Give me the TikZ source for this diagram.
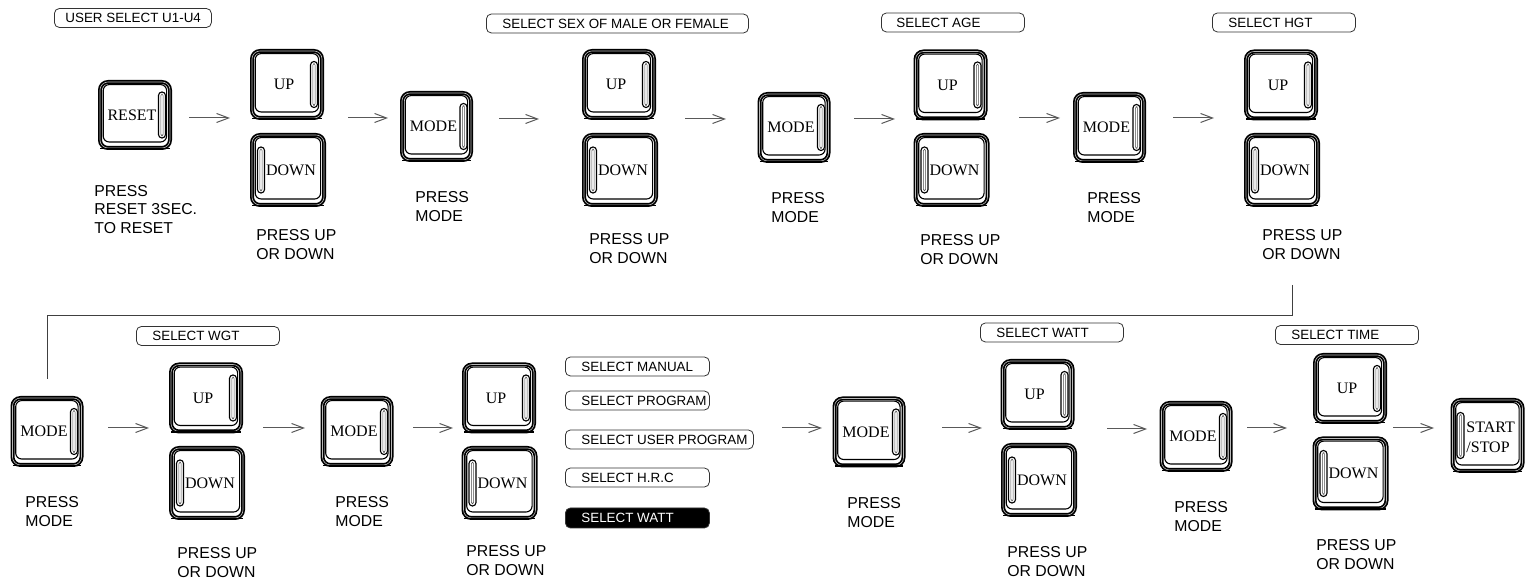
\documentclass[tikz,border=0pt]{standalone}
\usepackage{fontspec}
\setmainfont{Liberation Serif}
\setsansfont{Liberation Sans}
\usetikzlibrary{arrows.meta}
\tikzset{
  frame/.style={draw=none, inner sep=0pt, outer sep=0pt},
  btntext/.style={inner sep=0pt, font=\rmfamily\fontsize{8}{10}\selectfont, align=left},
  lbl/.style={anchor=base west, align=left, inner sep=0pt, font=\sffamily\fontsize{7.9}{9.5}\selectfont},
  lblr/.style={anchor=base west, align=left, inner sep=0pt, font=\sffamily\fontsize{7.9}{9.2}\selectfont},
  selframe/.style={draw=black!80, line width=0.4pt, rounded corners=2.5pt, minimum height=9.5pt, inner sep=0pt, anchor=west},
  seltext/.style={anchor=west, inner sep=0pt, font=\sffamily\fontsize{6.7}{8}\selectfont},
  arr/.style={draw=black!65, line width=0.5pt, -{Straight Barb[length=6pt,width=4.5pt]}},
  conn/.style={draw=black!75, line width=0.5pt}
}
\newcommand{\btnframe}[1]{%
  \draw[line width=2pt, rounded corners=4pt] ([shift={(1pt,1pt)}]#1.south west) rectangle ([shift={(-1pt,-1pt)}]#1.north east);
  \draw[line width=0.3pt, draw=gray!55, rounded corners=4pt] ([shift={(1pt,1pt)}]#1.south west) rectangle ([shift={(-1pt,-1pt)}]#1.north east);
  \draw[line width=0.8pt, rounded corners=3.5pt] ([shift={(1.2pt,0.8pt)}]#1.south west) -- ([shift={(-1.2pt,0.8pt)}]#1.south east);
  \draw[line width=0.55pt, rounded corners=3pt] ([shift={(2.6pt,4pt)}]#1.south west) rectangle ([shift={(-2.7pt,-2.3pt)}]#1.north east);
}
\newcommand{\btnslot}[2]{%
  \draw[line width=0.55pt, rounded corners=1.7pt] ([shift={(#2-1.75pt,-11.5pt)}]#1.center) rectangle ([shift={(#2+1.75pt,11.5pt)}]#1.center);
  \draw[line width=0.25pt, draw=black!70, rounded corners=0.7pt] ([shift={(#2-0.6pt,-10.4pt)}]#1.center) rectangle ([shift={(#2+0.6pt,10.4pt)}]#1.center);
}
\newcommand{\btnR}[5]{%
  \node[frame, minimum width=#3, minimum height=#4] (#1) at (#2) {};
  \btnframe{#1}\btnslot{#1}{13.5pt}
  \node[btntext] (#1-t) at ([xshift=-1.5pt]#1.center) {#5};}
\newcommand{\btnL}[5]{%
  \node[frame, minimum width=#3, minimum height=#4] (#1) at (#2) {};
  \btnframe{#1}\btnslot{#1}{-13.5pt}
  \node[btntext] (#1-t) at ([xshift=1.5pt]#1.center) {#5};}
\newcommand{\selbox}[6]{%
  \node[selframe, minimum width=#4] (#1) at (#2,#3) {};
  \node[seltext] (#1-t) at (#5,#3) {#6};}
\begin{document}
\begin{tikzpicture}[x=0.5pt, y=-0.5pt]
\useasboundingbox (0,0) rectangle (1526,581);
% ---------- row 1 ----------
\selbox{usel}{54}{18}{78.5pt}{65}{USER SELECT U1-U4}
\selbox{sex}{486}{23.5}{131pt}{502}{SELECT SEX OF MALE OR FEMALE}
\selbox{age}{881}{22.5}{71.5pt}{896}{SELECT AGE}
\selbox{hgt}{1212}{22.5}{71.5pt}{1228}{SELECT HGT}

\btnR{reset}{135,115}{37pt}{35pt}{RESET}
\btnR{up1}{287,84.5}{37pt}{35.5pt}{UP}
\btnL{dn1}{288,170}{38pt}{37pt}{DOWN}
\btnR{mode1}{436.5,126.5}{36.5pt}{35.5pt}{MODE}
\btnR{up2}{619,84.5}{37pt}{35.5pt}{UP}
\btnL{dn2}{620,170}{38pt}{37pt}{DOWN}
\btnR{mode2}{794,127.5}{36.5pt}{35.5pt}{MODE}
\btnR{up3}{950.5,85}{37pt}{35.5pt}{UP}
\btnL{dn3}{951.5,170}{38pt}{37pt}{DOWN}
\btnR{mode3}{1109.5,127.5}{36.5pt}{35.5pt}{MODE}
\btnR{up4}{1281,85}{37pt}{35.5pt}{UP}
\btnL{dn4}{1282,170}{38pt}{37pt}{DOWN}

% base anchor = baseline of the last line
\node[lblr] (lreset) at (94,233.2) {PRESS\\RESET 3SEC.\\TO RESET};
\node[lbl] (l1) at (256,259.7) {PRESS UP\\OR DOWN};
\node[lbl] (lm1) at (415,221.7) {PRESS\\MODE};
\node[lbl] (l2) at (589,263.7) {PRESS UP\\OR DOWN};
\node[lbl] (lm2) at (771,222.7) {PRESS\\MODE};
\node[lbl] (l3) at (920,264.7) {PRESS UP\\OR DOWN};
\node[lbl] (lm3) at (1087,222.7) {PRESS\\MODE};
\node[lbl] (l4) at (1262,259.7) {PRESS UP\\OR DOWN};

\coordinate (a1s) at (189,118); \coordinate (a1e) at (230,118);
\coordinate (a2s) at (348,118); \coordinate (a2e) at (388,118);
\coordinate (a3s) at (499,119); \coordinate (a3e) at (539,119);
\coordinate (a4s) at (685,119); \coordinate (a4e) at (726,119);
\coordinate (a5s) at (854,119); \coordinate (a5e) at (895,119);
\coordinate (a6s) at (1019,118); \coordinate (a6e) at (1060,118);
\coordinate (a7s) at (1173,118); \coordinate (a7e) at (1214,118);
\foreach \i in {1,...,7} {\draw[arr] (a\i s) -- (a\i e);}

% ---------- row 2 ----------
\selbox{wgt}{136}{336}{71.5pt}{152}{SELECT WGT}
\selbox{man}{565}{366.5}{72pt}{581}{SELECT MANUAL}
\selbox{prog}{565}{400.5}{72pt}{581}{SELECT PROGRAM}
\selbox{uprog}{565}{439.5}{94pt}{581}{SELECT USER PROGRAM}
\selbox{hrc}{565}{477.5}{72pt}{581}{SELECT H.R.C}
\node[selframe, fill=black, minimum width=72pt, minimum height=10pt] (wattb) at (565,518) {};
\node[seltext, text=white] (wattb-t) at (581,518) {SELECT WATT};
\selbox{watt}{980}{332.5}{71.5pt}{996}{SELECT WATT}
\selbox{time}{1275}{335}{71.5pt}{1291}{SELECT TIME}

\btnR{mode4}{47,431.5}{36.5pt}{35.5pt}{MODE}
\btnR{up5}{206,398}{37pt}{35.5pt}{UP}
\btnL{dn5}{207,483}{38pt}{37pt}{DOWN}
\btnR{mode5}{357,431.5}{36.5pt}{35.5pt}{MODE}
\btnR{up6}{499,398}{37pt}{35.5pt}{UP}
\btnL{dn6}{499.5,483}{38pt}{37pt}{DOWN}
\btnR{mode6}{869,432}{36.5pt}{35.5pt}{MODE}
\btnR{up7}{1037.5,394.5}{37pt}{35.5pt}{UP}
\btnL{dn7}{1039,480}{38pt}{37pt}{DOWN}
\btnR{mode7}{1196,436.5}{36.5pt}{35.5pt}{MODE}
\btnR{up8}{1350,388.5}{37pt}{35.5pt}{UP}
\btnL{dn8}{1350.5,473.5}{38pt}{37pt}{DOWN}
\node[frame, minimum width=37pt, minimum height=37.5pt] (start) at (1487.5,435.5) {};
\btnframe{start}\btnslot{start}{-13.5pt}
\node[btntext, anchor=west] (start-t) at (1466,437) {START\\/STOP};

\node[lbl] (lm4) at (25,526.7) {PRESS\\MODE};
\node[lbl] (l5) at (177,577.7) {PRESS UP\\OR DOWN};
\node[lbl] (lm5) at (335,526.7) {PRESS\\MODE};
\node[lbl] (l6) at (466,575.7) {PRESS UP\\OR DOWN};
\node[lbl] (lm6) at (847,527.7) {PRESS\\MODE};
\node[lbl] (l7) at (1007,576.7) {PRESS UP\\OR DOWN};
\node[lbl] (lm7) at (1174,531.7) {PRESS\\MODE};
\node[lbl] (l8) at (1316,569.7) {PRESS UP\\OR DOWN};

\coordinate (b1s) at (108,428); \coordinate (b1e) at (149,428);
\coordinate (b2s) at (263,428); \coordinate (b2e) at (305,428);
\coordinate (b3s) at (413,428); \coordinate (b3e) at (453,428);
\coordinate (b4s) at (782,428); \coordinate (b4e) at (822,428);
\coordinate (b5s) at (942,428); \coordinate (b5e) at (982,428);
\coordinate (b6s) at (1107,429); \coordinate (b6e) at (1147,429);
\coordinate (b7s) at (1247,428); \coordinate (b7e) at (1287,428);
\coordinate (b8s) at (1393,428); \coordinate (b8e) at (1434,428);
\foreach \i in {1,...,8} {\draw[arr] (b\i s) -- (b\i e);}

% ---------- link between rows ----------
\coordinate (c0) at (1292,285);
\draw[conn, shorten >=8.5pt] (c0) -- ++(0,31) -| (mode4.north);
\end{tikzpicture}
\end{document}
